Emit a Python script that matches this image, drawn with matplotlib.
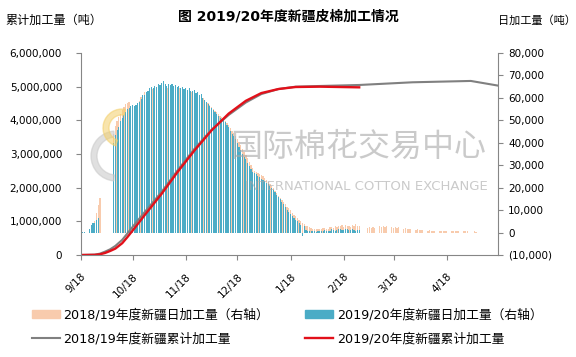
import numpy as np
import pandas as pd
import matplotlib
matplotlib.use("Agg")
import matplotlib.pyplot as plt
import matplotlib.transforms as mtransforms
from matplotlib.ticker import FuncFormatter
from matplotlib.patches import Patch, Wedge
from matplotlib.lines import Line2D

plt.rcParams['font.family'] = ['DejaVu Sans', 'Noto Sans CJK SC']

nan = float('nan')

# 日加工量, 千吨/天, 从 9/18 起逐日
daily_1920 = [
    0.3, 0.2, 0.3, nan, nan, 1.8, 3.5, 4.2, 4.4, 5.8, 6.4,
    nan, nan, nan, nan, nan, nan, nan, nan,
    40.0, 43.4, 45.8, 47.0, 49.5, 51.0, 52.2, 53.8, 55.0, 55.3,
    56.5, 56.8, 56.2, 57.0, 57.6, 58.2, 59.5, 61.2, 61.5, 62.7,
    63.0, 64.2, 64.9, 64.5, 65.3, 65.0, 66.2, 65.8, 66.5, 67.6,
    66.3, 65.4, 66.0, 65.6,
    66.1, 65.2, 65.8, 64.9, 65.5, 64.6, 65.0, 64.1, 64.4, 63.6,
    64.2, 63.1, 62.9, 63.4, 62.2, 62.8, 61.2, 61.6, 60.1, 58.9,
    58.2, 57.4, 56.5, 55.6, 54.8, 53.6, 53.0, 52.1, 51.2, 50.6,
    50.0, 49.3, 48.0, 46.9, 45.3, 44.0, 42.8, 41.5, 39.8, 38.2,
    36.9, 35.0, 33.8, 32.6, 31.0, 29.7, 28.5, 27.2,
    26.4, 25.9, 25.0, 24.6, 24.0, 23.3, 22.8, 22.2, 21.5, 20.9,
    20.0, 19.0, 18.0, 16.8, 15.9, 14.8, 13.6, 12.5, 11.2, 10.0,
    9.1, 8.4, 7.4, 6.5, 5.8, 5.2, 4.3, 3.5, -1.5, 2.8,
    1.0, 0.8, 0.6, 0.7, 0.5, 0.6, 0.4, 0.5, 0.7, 0.6,
    0.9, 1.3, 0.8, 0.6, 0.9, 1.5, 1.2, 0.7, 1.0, 1.4,
    1.6, 1.1, 1.3, 1.8, 1.5, 1.2, 1.0, 1.4, 1.3, 0.9, 1.1, 1.0,
]

daily_1819 = [
    nan, nan, nan, nan, nan, nan, nan, nan,
    5.0, 8.7, 12.2, 15.6,
    nan, nan, nan, nan, nan, nan, nan,
    44.0, 47.5, 49.8, 51.5, 53.0, 54.6, 56.0, 57.2, 57.8, 58.0,
    55.5, 55.8, 56.0, 56.3, 57.0, 58.8, 60.5, 61.0, 62.7, 61.8,
    62.5, 63.1, 63.8, 64.0, 64.3, 63.9, 64.8, 65.0, 65.5, 65.0,
    64.8, 64.2, 65.0, 64.7,
    65.0, 64.6, 64.9, 64.0, 64.3, 63.8, 64.1, 63.5, 63.7, 63.0,
    63.3, 62.5, 62.6, 62.0, 61.8, 62.1, 61.0, 60.6, 59.8, 58.5,
    58.0, 57.6, 56.8, 56.0, 55.2, 54.3, 53.5, 52.8, 52.0, 51.3,
    50.6, 49.8, 48.9, 47.8, 46.5, 45.4, 44.2, 43.0, 41.6, 40.2,
    38.8, 37.3, 35.8, 34.5, 33.0, 31.6, 30.2, 28.7,
    27.6, 27.0, 26.5, 26.2, 25.8, 25.0, 24.3, 23.5, 22.6, 21.8,
    20.8, 19.7, 18.6, 17.5, 16.5, 15.5, 14.5, 13.5, 12.5, 11.5,
    10.8, 9.9, 8.8, 8.0, 7.2, 6.5, 5.8, 5.0, 4.2, 3.6,
    3.0, 2.8, 2.6,
    2.0, 1.8, 1.6, 1.5, 1.7, 1.5, 1.6, 2.0, 2.2, 1.8,
    1.7, 2.4, 2.6, 2.2, 2.8, 2.5, 3.0, 2.7, 3.2, 2.6,
    3.4, 2.9, 3.1, 2.5, 3.3, 2.8, 3.6, 3.0, 2.7,
    nan, nan, nan, nan,
    2.2, 2.6, 2.0, 2.4, 2.1, nan, nan,
    3.0, 2.5, 2.8, 2.3, 2.7, nan, nan,
    2.6, 2.2, 2.5, 2.0, 2.3, nan, nan,
    1.6, 1.9, 1.4, 1.7, 1.5, nan, nan,
    1.2, 1.5, 1.0, 1.3, 1.1, nan, nan,
    0.8, 1.0, 0.7, 0.9, 0.8, nan, nan,
    0.8, 0.7, 0.9, 0.6, 0.8, nan, nan,
    0.7, 0.8, 0.6, 0.7, 0.6, nan, nan,
    0.6, 0.5, 0.6, nan, nan, nan,
    0.5, 0.4,
]

# 累计加工量 (万吨), 按读图取点
cum_1920_dates = ['2019-09-18', '2019-09-26', '2019-09-29', '2019-10-02', '2019-10-05',
                  '2019-10-08', '2019-10-12', '2019-10-15', '2019-10-20', '2019-10-25',
                  '2019-11-04', '2019-11-13', '2019-11-23', '2019-12-03', '2019-12-13',
                  '2019-12-23', '2020-01-01', '2020-01-11', '2020-01-21', '2020-02-04',
                  '2020-02-27']
cum_1920 = [0, 0.5, 2, 6, 12, 19, 35, 53, 85, 118, 182, 245, 310, 370, 420,
            458, 481, 493, 499, 500, 498]

cum_1819_dates = ['2019-09-18', '2019-09-26', '2019-09-29', '2019-10-02', '2019-10-05',
                  '2019-10-08', '2019-10-12', '2019-10-15', '2019-10-20', '2019-10-25',
                  '2019-11-04', '2019-11-13', '2019-11-23', '2019-12-03', '2019-12-13',
                  '2019-12-23', '2020-01-01', '2020-01-11', '2020-01-21', '2020-02-04',
                  '2020-02-27', '2020-03-29', '2020-05-02', '2020-05-18']
cum_1819 = [0, 1, 4, 10, 17, 27, 45, 64, 96, 127, 188, 250, 315, 372, 416,
            453, 478, 493, 500, 502, 505, 513, 517, 503]

month_ticks = ['2019-09-18', '2019-10-18', '2019-11-18', '2019-12-18',
               '2020-01-18', '2020-02-18', '2020-03-18', '2020-04-18']

days_1920 = pd.date_range('2019-09-18', periods=len(daily_1920), freq='D')
days_1819 = pd.date_range('2019-09-18', periods=len(daily_1819), freq='D')

c_peach = '#F8CBAD'
c_teal = '#4BACC6'
c_grey = '#808080'
c_red = '#E2101A'
c_axis = '#868686'

fig = plt.figure(figsize=(5.76, 3.57), dpi=100)
ax = fig.add_axes([81 / 576, 1 - 255 / 357, (498.3 - 81) / 576, (255 - 53) / 357])
ax2 = ax.twinx()

ax2.bar(days_1819, np.array(daily_1819) * 1000, width=0.75, color=c_peach, linewidth=0)
ax2.bar(days_1920, np.array(daily_1920) * 1000, width=0.65, color=c_teal, linewidth=0)

ax.plot(pd.to_datetime(cum_1819_dates), np.array(cum_1819) * 10000, color=c_grey, lw=1.5)
ax.plot(pd.to_datetime(cum_1920_dates), np.array(cum_1920) * 10000, color=c_red, lw=1.7)

ax.set_zorder(ax2.get_zorder() + 1)
ax.patch.set_visible(False)

ax.set_xlim(pd.Timestamp('2019-09-18'), pd.Timestamp('2020-05-18'))
ax.set_ylim(0, 6000000)
ax.set_yticks(np.arange(0, 6000001, 1000000))
ax2.set_ylim(-10000, 80000)
ax2.set_yticks(np.arange(-10000, 80001, 10000))

ax.yaxis.set_major_formatter(FuncFormatter(lambda v, p: f"{v:,.0f}"))
ax2.yaxis.set_major_formatter(FuncFormatter(
    lambda v, p: f"({abs(v):,.0f})" if v < 0 else f"{v:,.0f}"))

tick_dates = pd.to_datetime(month_ticks)
ax.set_xticks(tick_dates)
ax.set_xticklabels([f"{d.month}/{d.day}" for d in tick_dates])
shift = mtransforms.ScaledTranslation(3 / 100, 0, fig.dpi_scale_trans)
for lab in ax.get_xticklabels():
    lab.set_rotation(45)
    lab.set_ha('right')
    lab.set_rotation_mode('anchor')
    lab.set_transform(lab.get_transform() + shift)

for a in (ax, ax2):
    a.spines['top'].set_visible(False)
    for s in ('left', 'right', 'bottom'):
        a.spines[s].set_color(c_axis)
    a.tick_params(colors=c_axis, labelcolor='black', labelsize=7.5, length=3.6)
ax.spines['right'].set_visible(False)
ax2.spines['left'].set_visible(False)
ax2.spines['bottom'].set_visible(False)
ax.tick_params(axis='y', pad=10)
ax.tick_params(axis='x', pad=8)

# 水印 (logo + 文字)
px = fig.dpi_scale_trans
fig.patches.append(Wedge((1.16, (357 - 156) / 100), 0.25, 95, 265, width=0.06,
                         transform=px, color='#c8c8c8', alpha=0.55, zorder=5))
fig.patches.append(Wedge((1.22, (357 - 128) / 100), 0.19, 80, 250, width=0.06,
                         transform=px, color='#f3cf6a', alpha=0.55, zorder=5))
fig.text(358 / 576, 1 - 147 / 357, '国际棉花交易中心', fontsize=23, color='#a8a8a8',
         alpha=0.6, ha='center', va='center', zorder=5)
fig.text(366 / 576, 1 - 186 / 357, 'INTERNATIONAL COTTON EXCHANGE', fontsize=9.5,
         color='#a8a8a8', alpha=0.6, ha='center', va='center', zorder=5)

fig.text(288 / 576, 1 - 16 / 357, '图 2019/20年度新疆皮棉加工情况', fontsize=10,
         fontweight='bold', ha='center', va='center')
fig.text(5 / 576, 1 - 20 / 357, '累计加工量（吨）', fontsize=8.7, ha='left', va='center')
fig.text(1.0, 1 - 20 / 357, '日加工量（吨）', fontsize=8, ha='right', va='center')

handles = [Patch(color=c_peach), Line2D([], [], color=c_grey, lw=1.5),
           Patch(color=c_teal), Line2D([], [], color=c_red, lw=1.7)]
labels = ['2018/19年度新疆日加工量（右轴）', '2018/19年度新疆累计加工量',
          '2019/20年度新疆日加工量（右轴）', '2019/20年度新疆累计加工量']
fig.legend(handles, labels, ncol=2, loc='upper left', bbox_to_anchor=(20 / 576, 1 - 297 / 357),
           frameon=False, fontsize=9.2, handlelength=2.2, handleheight=0.6,
           columnspacing=2.8, labelspacing=0.85, handletextpad=0.3)

fig.savefig('out.png', dpi=100)
